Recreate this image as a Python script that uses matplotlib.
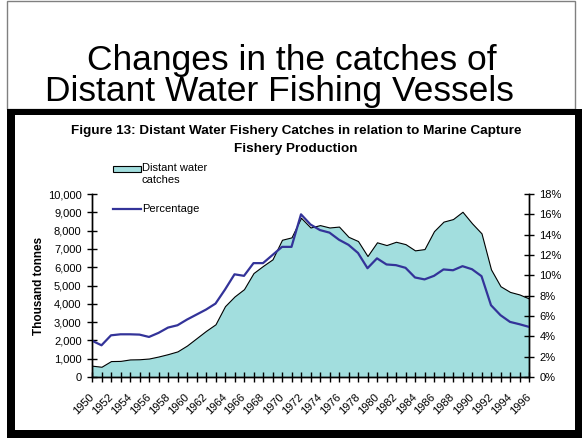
import matplotlib.pyplot as plt
from matplotlib.patches import Rectangle
from matplotlib.lines import Line2D
from matplotlib.ticker import FuncFormatter
from matplotlib.transforms import ScaledTranslation

plt.rcParams['font.family'] = ['Liberation Sans', 'DejaVu Sans']

years = list(range(1950, 1997))
# distant water catches, thousand tonnes
catches = [620, 560, 870, 880, 960, 970, 1010, 1120, 1250, 1400,
           1720, 2120, 2520, 2880, 3870, 4400, 4800, 5680, 6070, 6430,
           7500, 7630, 8700, 8170, 8300, 8170, 8220, 7660, 7430, 6610,
           7360, 7210, 7390, 7260, 6920, 6990, 7970, 8490, 8630, 9030,
           8400, 7850, 5880, 4960, 4650, 4510, 4290]
# share of marine capture fishery production, %
percentage = [3.57, 3.12, 4.1, 4.2, 4.2, 4.17, 3.94, 4.34, 4.86, 5.09,
              5.65, 6.14, 6.63, 7.22, 8.6, 10.1, 9.95, 11.2, 11.2, 12.0,
              12.8, 12.8, 16.0, 15.0, 14.45, 14.2, 13.5, 13.0, 12.2, 10.7,
              11.67, 11.07, 11.0, 10.74, 9.79, 9.6, 9.95, 10.58, 10.5, 10.9,
              10.6, 9.92, 7.06, 6.08, 5.42, 5.19, 4.93]
year_labels = [str(y) if y % 2 == 0 else '' for y in years]

W, H = 582, 438
fig = plt.figure(figsize=(W / 100, H / 100), dpi=100)


def box(x0, y0, x1, y1, **kw):
    # rectangle given in pixel coords, origin top-left
    r = Rectangle((x0 / W, 1 - y1 / H), (x1 - x0) / W, (y1 - y0) / H,
                  transform=fig.transFigure, **kw)
    fig.add_artist(r)
    return r


# slide title box and black chart frame
box(7, 1, 575, 109, facecolor='white', edgecolor='#808080', lw=1, zorder=-3)
box(7, 109, 582, 438, facecolor='black', edgecolor='none', zorder=-2)
box(15, 115, 575, 430, facecolor='white', edgecolor='none', zorder=-1)

fig.text(292 / W, 1 - 70 / H, 'Changes in the catches of', ha='center',
         va='baseline', fontsize=25.5)
fig.text(279 / W, 1 - 101 / H, 'Distant Water Fishing Vessels', ha='center',
         va='baseline', fontsize=25.5)

fig.text(296 / W, 1 - 131 / H,
         'Figure 13: Distant Water Fishery Catches in relation to Marine Capture',
         ha='center', va='center', fontsize=9.7, fontweight='bold')
fig.text(296 / W, 1 - 149 / H, 'Fishery Production', ha='center',
         va='center', fontsize=9.7, fontweight='bold')

ax = fig.add_axes([92 / W, (H - 377) / H, 437 / W, 183 / H])
ax.fill_between(years, catches, 0, facecolor='#A2DEDE', edgecolor='black',
                lw=0.8)
ax.set_xlim(1950, 1996)
ax.set_ylim(0, 10000)
ax.set_yticks(range(0, 10001, 1000))
ax.yaxis.set_major_formatter(FuncFormatter(lambda v, p: f'{int(v):,}'))
ax.set_xticks(years)
ax.set_xticklabels(year_labels, rotation=45, ha='right', va='center',
                   rotation_mode='anchor')
# nudge the slanted year labels down-left
shift = ScaledTranslation(-6 / 100, -4 / 100, fig.dpi_scale_trans)
for lbl in ax.get_xticklabels():
    lbl.set_transform(lbl.get_transform() + shift)
ax.set_ylabel('Thousand tonnes', fontsize=8.5, fontweight='bold', labelpad=2)
ax.tick_params(direction='inout', length=7, width=1, labelsize=8, pad=4)
ax.tick_params(axis='x', pad=10)
ax.spines['top'].set_visible(False)
ax.patch.set_alpha(0)

ax2 = ax.twinx()
ax2.plot(years, percentage, color='#333399', lw=1.6)
ax2.set_ylim(0, 18)
ax2.set_yticks(range(0, 19, 2))
ax2.yaxis.set_major_formatter(FuncFormatter(lambda v, p: f'{int(v)}%'))
ax2.tick_params(direction='inout', length=7, width=1, labelsize=8, pad=4)
ax2.spines['top'].set_visible(False)

for a in (ax, ax2):
    for s in a.spines.values():
        s.set_linewidth(1)

# legend
box(113, 166, 141, 172, facecolor='#A2DEDE', edgecolor='black', lw=0.8)
fig.text(142 / W, 1 - 163 / H, 'Distant water\ncatches', ha='left', va='top',
         fontsize=8, linespacing=1.25)
fig.add_artist(Line2D([113 / W, 141 / W], [1 - 209 / H, 1 - 209 / H],
                      transform=fig.transFigure, color='#333399', lw=1.6))
fig.text(142 / W, 1 - 209 / H, 'Percentage', ha='left', va='center',
         fontsize=8)

fig.savefig('out.png', dpi=100)
